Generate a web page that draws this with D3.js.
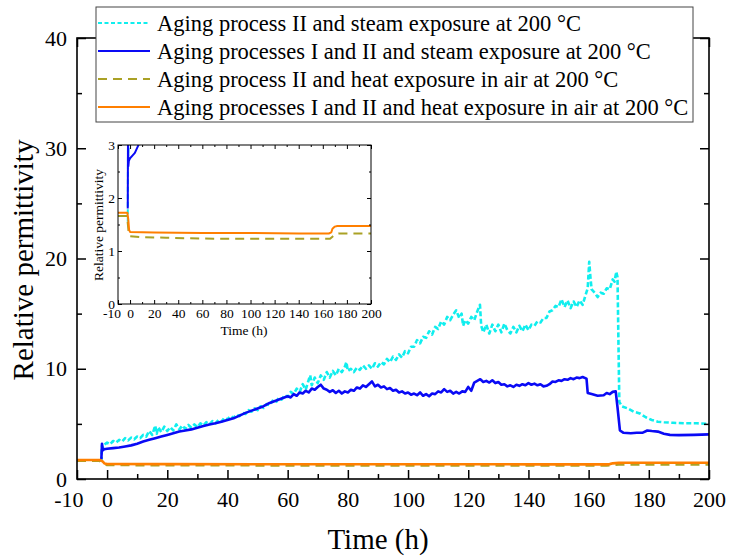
<!DOCTYPE html>
<html>

<head>
    <meta charset="UTF-8">
    <title>relative permittivity</title>
    <script src="https://cdn.jsdelivr.net/npm/d3@7"></script>
    <style>
        body { margin: 0; background: #fff; }
        text { font-family: "Liberation Serif", "Times New Roman", serif; fill: #000; }
    </style>
</head>

<body>
    <svg id="chart"></svg>
    <script>
        // ---- data: [time (h), relative permittivity] ----
        var cyanData = [
            [-1.9, 1.55], [-1.7, 3.0], [-1.5, 2.8], [-1, 3.1],
            [0, 3.3], [1, 3.15], [2, 3.45], [3, 3.3], [4, 3.55], [5, 3.4], [6, 3.7], [7, 3.5], [8, 3.75], [9, 3.6],
            [10, 3.85], [11, 3.7], [12, 4.0], [13, 3.85], [14, 4.35], [15, 4.0], [16, 4.85], [16.5, 4.1], [17, 4.7],
            [18, 4.25], [19, 4.75], [20, 4.35], [21, 4.7], [22, 4.4], [23, 4.95], [24, 4.5], [25, 4.85], [26, 4.55],
            [27, 4.9], [28, 4.65], [29, 4.95], [30, 4.7], [31, 5.05], [32, 4.85], [33, 5.15], [34, 4.95], [35, 5.25],
            [36, 5.05], [37, 5.35], [38, 5.2], [39, 5.55], [40, 5.4], [41, 5.7], [42, 5.55], [43, 5.85], [44, 5.7],
            [45, 6.0], [46, 5.9], [47, 6.25], [48, 6.1], [49, 6.4], [50, 6.25], [51, 6.6], [52, 6.45], [53, 6.8],
            [54, 6.7], [55, 7.1], [56, 6.9], [57, 7.35], [58, 7.2], [59, 7.6], [60, 7.45], [61, 7.9], [62, 7.7],
            [63, 8.2], [64, 7.9], [65, 8.6], [66, 8.1], [67, 9.0], [67.5, 9.4], [68, 8.5], [69, 9.2], [70, 8.7],
            [71, 9.4], [72, 9.0], [73, 9.7], [74, 9.2], [75, 9.8], [76, 9.4], [77, 10.0], [78, 9.7], [79, 10.2],
            [79.5, 10.6], [80, 9.8], [81, 10.0], [82, 9.7], [83, 10.1], [84, 9.9], [85, 10.3], [86, 10.0], [87, 10.3],
            [88, 10.0], [89, 10.5], [90, 10.2], [91, 10.6], [92, 10.4], [93, 10.9], [94, 10.6], [95, 11.1], [96, 10.8],
            [97, 11.3], [98, 11.0], [99, 11.6], [100, 11.4], [101, 12.0], [102, 12.0], [103, 12.6], [104, 12.3],
            [105, 12.9], [106, 12.8], [107, 13.4], [108, 13.1], [109, 13.8], [110, 13.6], [111, 14.3], [112, 14.0],
            [113, 14.7], [114, 14.4], [115, 14.9], [116, 15.3], [117, 14.6], [117.8, 15.0], [118.3, 13.9],
            [119, 14.4], [120, 14.1], [121, 14.7], [122, 14.4], [123, 15.2], [123.9, 15.8], [124.3, 13.9],
            [125, 13.3], [126, 14.0], [127, 13.2], [128, 14.0], [129, 13.4], [130, 14.0], [131, 13.3], [132, 14.1],
            [133, 13.5], [134, 13.2], [135, 13.8], [136, 13.3], [137, 13.9], [138, 13.4], [139, 14.0], [140, 13.5],
            [141, 14.0], [142, 13.9], [143, 14.3], [144, 14.2], [145, 14.6], [146, 14.6], [147, 15.2], [148, 15.3],
            [149, 15.7], [150, 15.6], [151, 16.3], [152, 15.6], [153, 16.2], [154, 15.5], [155, 16.1], [156, 15.6],
            [157, 16.2], [158, 15.8], [159, 16.7], [159.7, 17.3], [160.2, 19.7], [160.6, 18.3], [161, 17.2],
            [162, 16.9], [163, 16.5], [164, 16.9], [165, 16.8], [166, 17.3], [167, 17.2], [168, 18.1],
            [168.6, 17.9], [169.2, 18.8], [169.6, 18.3], [170.2, 7.0], [171, 6.6], [173, 6.4], [175, 6.1],
            [177, 5.95], [179, 5.6], [181, 5.35], [183, 5.2], [185, 5.15], [188, 5.1], [192, 5.05], [196, 5.05],
            [200, 5.0]
        ];
        var blueData = [
            [-1.9, 1.8], [-1.7, 3.2], [-1.4, 2.6], [-1, 2.7], [0, 2.75], [2, 2.8], [4, 2.85], [6, 2.95], [8, 3.05],
            [10, 3.2], [12, 3.4], [14, 3.55], [16, 3.7], [18, 3.85], [20, 4.0], [22, 4.15], [24, 4.3], [26, 4.4],
            [28, 4.5], [30, 4.65], [32, 4.8], [34, 4.95], [36, 5.05], [38, 5.2], [40, 5.35], [42, 5.5],
            [44, 5.75], [46, 6.0], [48, 6.2], [50, 6.4], [52, 6.6], [54, 6.9], [56, 7.1], [58, 7.3],
            [60, 7.5], [61, 7.4], [62, 7.7], [63, 7.55], [64, 7.85], [65, 7.75], [66, 8.0], [67, 7.85], [68, 8.2],
            [69, 8.1], [70, 8.35], [71, 8.55], [72, 8.2], [73, 8.1], [74, 7.9], [75, 8.05], [76, 7.8], [77, 8.0],
            [78, 7.75], [79, 7.95], [80, 7.85], [81, 8.1], [82, 8.0], [83, 8.3], [84, 8.2], [85, 8.5], [86, 8.35],
            [87, 8.6], [88, 8.85], [89, 8.4], [90, 8.55], [91, 8.3], [92, 8.4], [93, 8.15], [94, 8.25], [95, 8.0],
            [96, 8.1], [97, 7.85], [98, 7.95], [99, 7.75], [100, 7.85], [101, 7.65], [102, 7.75], [103, 7.6],
            [104, 7.85], [105, 7.55], [106, 7.7], [107, 7.5], [108, 7.75], [109, 7.7], [110, 7.95], [111, 7.85],
            [112, 8.15], [113, 7.9], [114, 8.0], [115, 7.75], [116, 7.9], [117, 7.75], [118, 7.95], [119, 7.9],
            [120, 8.35], [121, 8.0], [122, 8.75], [123, 8.9], [124, 9.05], [125, 8.8], [126, 8.9], [127, 8.75],
            [128, 8.95], [129, 8.7], [130, 8.8], [131, 8.55], [132, 8.6], [133, 8.4], [134, 8.5], [135, 8.35],
            [136, 8.55], [137, 8.45], [138, 8.6], [139, 8.5], [140, 8.7], [141, 8.55], [142, 8.65], [143, 8.5],
            [144, 8.6], [145, 8.4], [146, 8.45], [147, 8.6], [148, 8.85], [149, 8.8], [150, 8.95], [151, 8.9],
            [152, 9.05], [153, 9.0], [154, 9.15], [155, 9.05], [156, 9.2], [157, 9.15], [158, 9.25], [159.3, 9.1],
            [159.7, 7.8], [161, 7.7], [163, 7.55], [165, 7.6], [166, 7.8], [167, 7.7], [168, 7.9], [169, 7.95],
            [169.6, 6.5], [170.4, 4.4], [171.5, 4.2], [174, 4.15], [176, 4.2], [178, 4.2], [179.5, 4.4],
            [181, 4.35], [183, 4.3], [185, 4.1], [187, 4.0], [190, 3.98], [195, 4.0], [200, 4.05]
        ];
        var oliveData = [
            [-10, 1.66], [-2.5, 1.66], [-1.8, 1.5], [-1, 1.3], [0, 1.28], [10, 1.26], [30, 1.25], [70, 1.23],
            [160, 1.23], [166, 1.23], [168, 1.27], [170, 1.31], [173, 1.33], [200, 1.33]
        ];
        var orangeData = [
            [-10, 1.72], [-2.2, 1.72], [-1.5, 1.6], [-0.8, 1.4], [0, 1.36], [20, 1.35], [60, 1.34], [100, 1.34],
            [140, 1.33], [165, 1.33], [167, 1.35], [168, 1.42], [170, 1.46], [172, 1.47], [200, 1.47]
        ];

        var legendLabels = [
            "Aging process II and steam exposure at 200 \u00B0C",
            "Aging processes I and II and steam exposure at 200 \u00B0C",
            "Aging process II and heat exposure in air at 200 \u00B0C",
            "Aging processes I and II and heat exposure in air at 200 \u00B0C"
        ];

        var xTicks = [-10, 0, 20, 40, 60, 80, 100, 120, 140, 160, 180, 200];
        var xMinor = [10, 30, 50, 70, 90, 110, 130, 150, 170, 190];
        var yTicks = [0, 10, 20, 30, 40];
        var yMinor = [5, 15, 25, 35];
        var insetYTicks = [0, 1, 2, 3];
        var insetYMinor = [0.5, 1.5, 2.5];

        // ---- series styles ----
        var series = [
            { data: cyanData, color: "#10eeee", dash: "5,2.5", legendDash: "4,2.5" },
            { data: blueData, color: "#0a0af5", dash: null, legendDash: null },
            { data: oliveData, color: "#aaa125", dash: "9,6", legendDash: "9,6" },
            { data: orangeData, color: "#ff7f00", dash: null, legendDash: null }
        ];

        var W = 729, H = 558;
        var svg = d3.select('#chart').attr('width', W).attr('height', H);

        var mainBox = { left: 77, right: 709, top: 38, bottom: 479 };
        var insetBox = { left: 118, right: 371, top: 145, bottom: 304 };

        var x = d3.scaleLinear().domain([-10, 200]).range([mainBox.left, mainBox.right]);
        var y = d3.scaleLinear().domain([0, 40]).range([mainBox.bottom, mainBox.top]);
        var xi = d3.scaleLinear().domain([-10, 200]).range([insetBox.left, insetBox.right]);
        var yi = d3.scaleLinear().domain([0, 3]).range([insetBox.bottom, insetBox.top]);

        function drawAxes(box, sx, sy, yt, ym, o) {
            var g = svg.append('g');
            var fmt = function(d) { return String(d); };
            var none = function() { return ""; };

            // minor ticks, all four sides
            g.append('g').attr('transform', 'translate(0,' + box.bottom + ')')
                .call(d3.axisBottom(sx).tickValues(xMinor).tickSize(-o.minor).tickFormat(none));
            g.append('g').attr('transform', 'translate(0,' + box.top + ')')
                .call(d3.axisTop(sx).tickValues(xMinor).tickSize(-o.minor).tickFormat(none));
            g.append('g').attr('transform', 'translate(' + box.left + ',0)')
                .call(d3.axisLeft(sy).tickValues(ym).tickSize(-o.minor).tickFormat(none));
            g.append('g').attr('transform', 'translate(' + box.right + ',0)')
                .call(d3.axisRight(sy).tickValues(ym).tickSize(-o.minor).tickFormat(none));

            // major ticks
            var bottom = g.append('g').attr('transform', 'translate(0,' + box.bottom + ')')
                .call(d3.axisBottom(sx).tickValues(xTicks).tickSize(-o.major).tickPadding(o.padX).tickFormat(fmt));
            g.append('g').attr('transform', 'translate(0,' + box.top + ')')
                .call(d3.axisTop(sx).tickValues(xTicks).tickSize(-o.major).tickFormat(none));
            g.append('g').attr('transform', 'translate(' + box.left + ',0)')
                .call(d3.axisLeft(sy).tickValues(yt).tickSize(-o.major).tickPadding(o.padY).tickFormat(fmt));
            g.append('g').attr('transform', 'translate(' + box.right + ',0)')
                .call(d3.axisRight(sy).tickValues(yt).tickSize(-o.major).tickFormat(none));

            g.selectAll('.domain').remove();
            g.selectAll('.tick line').attr('stroke', '#000').attr('stroke-width', o.tickWidth);
            g.selectAll('.tick text').attr('font-size', o.fs).attr('font-family', null).attr('fill', '#000');

            // "-10" sits left of its tick like in the original
            bottom.selectAll('.tick text').filter(function(d) { return d === -10; })
                .attr('text-anchor', 'end').attr('x', o.shift10);

            g.append('rect')
                .attr('x', box.left).attr('y', box.top)
                .attr('width', box.right - box.left).attr('height', box.bottom - box.top)
                .attr('fill', 'none').attr('stroke', '#000').attr('stroke-width', o.frameWidth);
            return g;
        }

        function drawLines(box, sx, sy, width, id) {
            svg.append('clipPath').attr('id', id)
                .append('rect')
                .attr('x', box.left).attr('y', box.top)
                .attr('width', box.right - box.left).attr('height', box.bottom - box.top);
            var line = d3.line().x(function(d) { return sx(d[0]); }).y(function(d) { return sy(d[1]); });
            var g = svg.append('g').attr('clip-path', 'url(#' + id + ')');
            series.forEach(function(s) {
                g.append('path')
                    .attr('d', line(s.data))
                    .attr('fill', 'none')
                    .attr('stroke', s.color)
                    .attr('stroke-width', width)
                    .attr('stroke-linejoin', 'round')
                    .attr('stroke-dasharray', s.dash);
            });
        }

        // ---- main chart ----
        drawLines(mainBox, x, y, 2.6, 'clipMain');
        drawAxes(mainBox, x, y, yTicks, yMinor, {
            major: 9, minor: 5, padX: 12, padY: 10, fs: 22, tickWidth: 1.5, frameWidth: 1.6, shift10: 6
        });

        svg.append('text')
            .attr('x', 378)
            .attr('y', 549)
            .attr('text-anchor', 'middle')
            .attr('font-size', 29)
            .text('Time (h)');
        svg.append('text')
            .attr('transform', 'translate(33,260) rotate(-90)')
            .attr('text-anchor', 'middle')
            .attr('font-size', 29)
            .text('Relative permittivity');

        // ---- inset ----
        svg.append('rect')
            .attr('x', insetBox.left).attr('y', insetBox.top)
            .attr('width', insetBox.right - insetBox.left).attr('height', insetBox.bottom - insetBox.top)
            .attr('fill', '#fff');
        drawLines(insetBox, xi, yi, 2, 'clipInset');
        drawAxes(insetBox, xi, yi, insetYTicks, insetYMinor, {
            major: 4, minor: 2, padX: 4, padY: 3, fs: 13.5, tickWidth: 1, frameWidth: 1, shift10: 2.5
        });
        svg.append('text')
            .attr('x', 244).attr('y', 335)
            .attr('text-anchor', 'middle')
            .attr('font-size', 13.5)
            .text('Time (h)');
        svg.append('text')
            .attr('transform', 'translate(102.5,225) rotate(-90)')
            .attr('text-anchor', 'middle')
            .attr('font-size', 13.5)
            .text('Relative permittivity');

        // ---- legend ----
        var legend = svg.append('g');
        legend.append('rect')
            .attr('x', 96).attr('y', 7).attr('width', 597).attr('height', 115)
            .attr('fill', '#fff').attr('stroke', '#444').attr('stroke-width', 1);
        series.forEach(function(s, i) {
            var cy = 23 + i * 28;
            legend.append('line')
                .attr('x1', 98).attr('x2', 150).attr('y1', cy).attr('y2', cy)
                .attr('stroke', s.color).attr('stroke-width', 2.2)
                .attr('stroke-dasharray', s.legendDash);
            legend.append('text')
                .attr('x', 157).attr('y', cy + 7.5)
                .attr('font-size', 22.5)
                .text(legendLabels[i]);
        });
    </script>
</body>

</html>
